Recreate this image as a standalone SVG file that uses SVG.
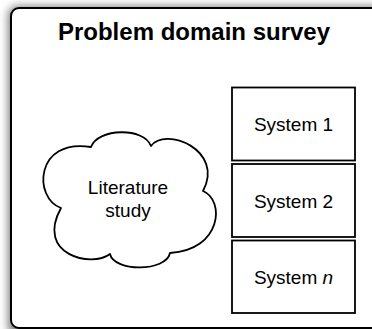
<svg xmlns="http://www.w3.org/2000/svg" width="372" height="329" viewBox="0 0 372 329">
  <defs>
    <filter id="soft-shadow" x="-10%" y="-10%" width="120%" height="120%">
      <feGaussianBlur stdDeviation="4"/>
    </filter>
    <style>
      .frame { fill: #ffffff; stroke: #000000; stroke-width: 2; }
      .box { fill: #ffffff; stroke: #000000; stroke-width: 1.8; }
      .cloud { fill: #ffffff; stroke: #000000; stroke-width: 1.8; stroke-linejoin: round; }
      .title { font-family: "Liberation Sans", Arial, sans-serif; font-size: 24px; font-weight: bold; fill: #000000; text-anchor: middle; }
      .label { font-family: "Liberation Sans", Arial, sans-serif; font-size: 19px; fill: #000000; text-anchor: middle; }
    </style>
  </defs>
  <rect width="372" height="329" fill="#ffffff"/>

  <!-- survey frame with soft shadow -->
  <g id="survey">
    <rect x="8" y="6" width="380" height="330" rx="9" fill="#000000" opacity="0.5" filter="url(#soft-shadow)"/>
    <rect class="frame" x="11" y="8" width="380" height="320" rx="8"/>
    <text class="title" x="194" y="40">Problem domain survey</text>
  </g>

  <!-- literature study cloud -->
  <g id="literature">
    <path class="cloud" d="M91,147 C98,128 144,127 151,146 C165,126 225,150 203,191 C225,200 222,250 170,253 C166,272 114,272 110,254 C92,268 35,255 61,208 C33,198 35,138 91,147 Z"/>
    <text class="label" x="128" y="194">Literature</text>
    <text class="label" x="128" y="217">study</text>
  </g>

  <g id="system1">
    <rect class="box" x="232" y="87.5" width="123" height="73"/>
    <text class="label" x="293.5" y="131">System 1</text>
  </g>
  <g id="system2">
    <rect class="box" x="232" y="164" width="123" height="73"/>
    <text class="label" x="293.5" y="207.5">System 2</text>
  </g>
  <g id="systemn">
    <rect class="box" x="232" y="240.5" width="123" height="72.5"/>
    <text class="label" x="293.5" y="284">System <tspan font-style="italic">n</tspan></text>
  </g>

  <g id="connectors"/>
</svg>
